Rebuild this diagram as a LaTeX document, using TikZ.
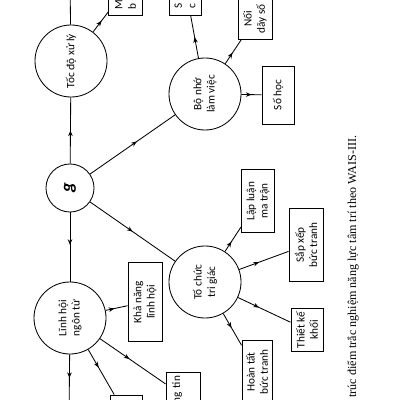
\documentclass[tikz,border=0pt]{standalone}
\usepackage{fontspec}
\setmainfont{Liberation Serif}
\newfontfamily\diagfont{Carlito}
\usetikzlibrary{arrows.meta,decorations.markings}

\begin{document}
\begin{tikzpicture}[x=0.025cm, y=-0.025cm, >={Stealth[length=4pt,width=3.2pt]}, line width=0.6pt,
    circ/.style={draw, circle, minimum size=1.8cm, inner sep=1pt, rotate=90, align=center, font=\diagfont\fontsize{8}{9.5}\selectfont},
    box/.style={draw, rectangle, inner sep=2pt, rotate=90, align=center, font=\diagfont\fontsize{8}{9.5}\selectfont},
    mid/.style={postaction={decorate}, decoration={markings, mark=at position #1 with {\arrow{>}}}},
    mid/.default=0.5]

    \useasboundingbox (0,0) rectangle (400,400);
    \clip (0,0) rectangle (400,400);

    % g va cac nhom chi so
    \node[circ, minimum size=1.2cm, font=\diagfont\bfseries\itshape\fontsize{13}{13}\selectfont] (g) at (70,188) {g};
    \node[circ] (toc) at (71,61) {Tốc độ xử lý};
    \node[circ] (bonho) at (205,94) {Bộ nhớ\\làm việc};
    \node[circ] (tochuc) at (205,282) {Tổ chức\\tri giác};
    \node[circ] (linhhoi) at (70,318) {Lĩnh hội\\ngôn từ};

    % cac trac nghiem con
    \node[box, minimum width=1.45cm, minimum height=0.8cm] (sohoc) at (278,95) {Số học};
    \node[box, minimum width=1cm, minimum height=0.85cm] (noi) at (255,19) {Nối\\dãy số};
    \node[box, minimum width=1.58cm, minimum height=0.83cm] (lapluan) at (258,201) {Lập luận\\ma trận};
    \node[box, minimum width=1.83cm, minimum height=0.85cm] (sapxep) at (306,245) {Sắp xếp\\bức tranh};
    \node[box, minimum width=1.08cm, minimum height=0.8cm] (thietke) at (307,330) {Thiết kế\\khối};
    \node[box, minimum width=1.6cm, minimum height=0.75cm] (hoantat) at (257,372) {Hoàn tất\\bức tranh};
    \node[box, minimum width=1.98cm, minimum height=0.85cm] (khanang) at (145,302) {Khả năng\\lĩnh hội};

    % hop bi cat o mep
    \node[box, anchor=west, text width=1cm, align=left, inner xsep=4.5pt, minimum height=0.83cm] (mbox) at (125.5,16) {M\\b};
    \node[box, anchor=west, text width=1.2cm, align=left, inner xsep=5pt, minimum height=0.8cm] (sbox) at (185,16) {S\\c};
    \node[box, anchor=east, text width=1cm, align=right, inner xsep=2.5pt, minimum height=0.85cm] (ngtin) at (183,372) {ng tin\\\mbox{}};
    \node[box, minimum width=1cm, minimum height=0.8cm] (bbox) at (126,415) {};
    \coordinate (topend) at (70,-20);
    \coordinate (botend) at (69,420);

    % chu thich
    \node[rotate=90, anchor=west, inner sep=0pt, font=\fontsize{8.6}{10}\selectfont] (caption) at (353,398) {trúc điểm trắc nghiệm năng lực tâm trí theo WAIS-III.};

    % mui ten
    \draw[mid=0.5] (g) -- (toc);
    \draw[mid=0.55] (g) -- (bonho);
    \draw[mid=0.5] (g) -- (tochuc);
    \draw[mid=0.47] (g) -- (linhhoi);
    \draw (toc) -- (topend);
    \draw[mid=0.55] (toc) -- (mbox);
    \draw[mid=0.5] (bonho) -- (sbox);
    \draw[mid=0.45] (bonho) -- (noi);
    \draw[mid=0.5] (bonho) -- (sohoc);
    \draw[mid=0.4] (tochuc) -- (lapluan);
    \draw[mid=0.4] (tochuc) -- (sapxep);
    \draw[mid=0.4] (tochuc) -- (thietke);
    \draw[mid=0.45] (tochuc) -- (hoantat);
    \draw[mid=0.4] (linhhoi) -- (khanang);
    \draw[mid=0.45] (linhhoi) -- (ngtin);
    \draw[mid=0.4] (linhhoi) -- (bbox);
    \draw[mid=0.36] (linhhoi) -- (botend);

\end{tikzpicture}
\end{document}
